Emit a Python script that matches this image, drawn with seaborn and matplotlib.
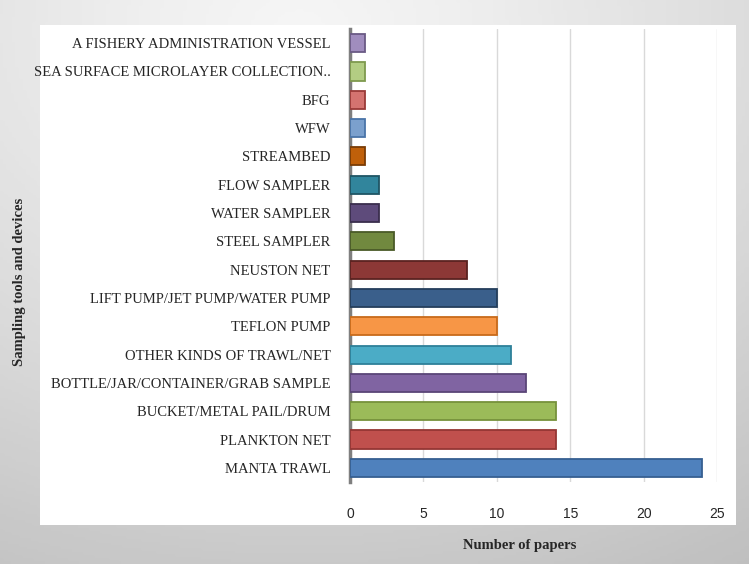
import numpy as np
import seaborn as sns
import matplotlib.pyplot as plt
from matplotlib.patches import Rectangle

devices = ['A FISHERY ADMINISTRATION VESSEL', 'SEA SURFACE MICROLAYER COLLECTION..', 'BFG', 'WFW',
           'STREAMBED', 'FLOW SAMPLER', 'WATER SAMPLER', 'STEEL SAMPLER', 'NEUSTON NET',
           'LIFT PUMP/JET PUMP/WATER PUMP', 'TEFLON PUMP', 'OTHER KINDS OF TRAWL/NET',
           'BOTTLE/JAR/CONTAINER/GRAB SAMPLE', 'BUCKET/METAL PAIL/DRUM', 'PLANKTON NET', 'MANTA TRAWL']
papers = [1, 1, 1, 1, 1, 2, 2, 3, 8, 10, 10, 11, 12, 14, 14, 24]
colors = ['#A08DBE', '#B3CD83', '#D47370', '#7BA0CD', '#C0600A', '#31859C', '#5E4B7B', '#71893F',
          '#8C3836', '#3A5F8B', '#F79646', '#4BACC6', '#8064A2', '#9BBB59', '#C0504D', '#4F81BD']
edges = ['#6A5A85', '#7E9A4E', '#9A3A38', '#4A74A8', '#7A3C05', '#1F5564', '#3A2E4D', '#4A5A28',
         '#5A2220', '#243E5C', '#C86A1A', '#2E8099', '#5A4577', '#76923C', '#943634', '#365F91']

sns.set_style('white')
plt.rcParams['font.family'] = ['Liberation Serif', 'DejaVu Serif']

fig = plt.figure(figsize=(7.49, 5.64), dpi=100)

# light grey gradient backdrop
bg = fig.add_axes([0, 0, 1, 1], zorder=-10)
yy, xx = np.mgrid[0:1:200j, 0:1:200j]
r = np.sqrt((xx - 0.4) ** 2 + (yy - 0.05) ** 2)
bg.imshow(r, cmap='Greys', vmin=-0.3, vmax=3.6, aspect='auto', extent=[0, 1, 0, 1], origin='upper')
bg.axis('off')
fig.patches.append(Rectangle((40 / 749, 39 / 564), 696 / 749, 500 / 564,
                             transform=fig.transFigure, facecolor='white', edgecolor='none', zorder=-5))

ax = fig.add_axes([350 / 749, 82 / 564, 367 / 749, 453 / 564])
ax.set_facecolor('none')
sns.barplot(x=papers, y=devices, hue=devices, palette=colors, orient='h', legend=False,
            width=0.64, saturation=1, ax=ax, zorder=3)
for bar, ec in zip(ax.patches, edges):
    bar.set_edgecolor(ec)
    bar.set_linewidth(1.3)

ax.set_xlim(0, 25)
ax.set_xticks([0, 5, 10, 15, 20, 25])
ax.xaxis.grid(True, color='#d9d9d9', linewidth=1, zorder=0)
for s in ['top', 'right', 'bottom']:
    ax.spines[s].set_visible(False)
ax.spines['left'].set_color('#7f7f7f')
ax.spines['left'].set_linewidth(2.5)
ax.tick_params(axis='y', length=0, pad=14, labelsize=10.5)
ax.tick_params(axis='x', length=0, pad=18, labelsize=10)
for t in ax.get_xticklabels():
    t.set_fontfamily('Liberation Sans')

ax.set_xlabel('')
ax.set_ylabel('')
fig.text(520 / 749, 1 - 545 / 564, 'Number of papers', fontsize=10.5, fontweight='bold',
         ha='center', va='center')
fig.text(20 / 749, 0.5, 'Sampling tools and devices', rotation=90, fontsize=10.5,
         fontweight='bold', va='center', ha='center')

fig.savefig('out.png', dpi=100)
